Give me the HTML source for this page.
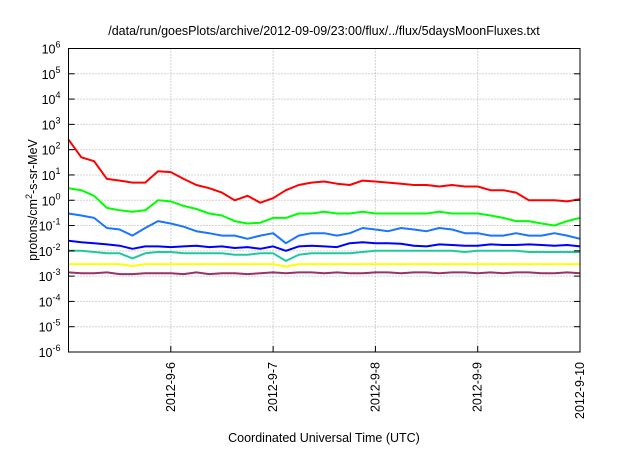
<!DOCTYPE html>
<html><head><meta charset="utf-8"><style>
body{margin:0;background:#fff}
svg text{font-family:"Liberation Sans",Arial,sans-serif;fill:#000}
</style></head><body>
<svg id="chart" width="640" height="448" xmlns="http://www.w3.org/2000/svg">
<text x="324" y="35" font-size="12.5" text-anchor="middle">/data/run/goesPlots/archive/2012-09-09/23:00/flux/../flux/5daysMoonFluxes.txt</text>
<g id="grid"></g>
<g id="series"></g>
<rect x="68.5" y="48.5" width="511.5" height="303.5" fill="none" stroke="#000" stroke-width="1"/>
<g id="axes"></g>
<text transform="translate(37,200) rotate(-90)" font-size="12.5" text-anchor="middle">protons/cm<tspan dy="-5" font-size="9">2</tspan><tspan dy="5">-s-sr-MeV</tspan></text>
<text x="324" y="442" font-size="12.5" text-anchor="middle">Coordinated Universal Time (UTC)</text>
</svg>
<script>
const xTickLabels=["2012-9-6","2012-9-7","2012-9-8","2012-9-9","2012-9-10"];
const xTickDays=[1,2,3,4,5];
const yTickExps=[-6,-5,-4,-3,-2,-1,0,1,2,3,4,5,6];
const red=[250,50,35,7,6,5,5,14,13,7,4,3,2,1,1.5,0.8,1.2,2.5,4,5,5.5,4.5,4,6,5.5,5,4.5,4,4,3.5,4,3.5,3.5,2.5,2.5,2,1,1,1,0.9,1.1];
const green=[3,2.5,1.5,0.5,0.4,0.35,0.4,1,0.9,0.6,0.45,0.3,0.25,0.15,0.12,0.13,0.2,0.2,0.3,0.3,0.35,0.3,0.3,0.35,0.3,0.3,0.3,0.3,0.3,0.35,0.3,0.3,0.3,0.25,0.2,0.15,0.15,0.12,0.1,0.15,0.2];
const lightBlue=[0.3,0.25,0.2,0.08,0.07,0.04,0.08,0.15,0.12,0.09,0.06,0.05,0.04,0.04,0.03,0.04,0.05,0.02,0.04,0.05,0.05,0.04,0.05,0.08,0.07,0.06,0.08,0.07,0.06,0.08,0.07,0.05,0.05,0.04,0.04,0.05,0.04,0.04,0.05,0.04,0.03];
const blue=[0.025,0.022,0.02,0.018,0.016,0.012,0.015,0.015,0.014,0.015,0.016,0.014,0.015,0.013,0.014,0.012,0.015,0.01,0.015,0.016,0.015,0.014,0.02,0.022,0.02,0.02,0.019,0.016,0.015,0.018,0.017,0.016,0.016,0.018,0.017,0.017,0.018,0.017,0.016,0.017,0.015];
const teal=[0.01,0.01,0.009,0.008,0.008,0.005,0.008,0.009,0.009,0.008,0.008,0.008,0.008,0.007,0.007,0.008,0.008,0.004,0.007,0.008,0.008,0.008,0.008,0.009,0.01,0.01,0.01,0.01,0.01,0.01,0.01,0.009,0.01,0.01,0.01,0.01,0.009,0.009,0.009,0.009,0.009];
const yellow=[0.003,0.003,0.003,0.003,0.003,0.0025,0.003,0.003,0.003,0.003,0.003,0.003,0.003,0.003,0.003,0.003,0.003,0.0024,0.003,0.003,0.003,0.003,0.003,0.003,0.003,0.003,0.003,0.003,0.003,0.003,0.003,0.003,0.003,0.003,0.003,0.003,0.003,0.003,0.003,0.003,0.003];
const purple=[0.0014,0.0013,0.0013,0.0014,0.0012,0.0012,0.0013,0.0013,0.0013,0.0012,0.0014,0.0012,0.0013,0.0013,0.0012,0.0013,0.0014,0.0013,0.0014,0.0014,0.0013,0.0014,0.0013,0.0013,0.0014,0.0014,0.0013,0.0014,0.0014,0.0013,0.0014,0.0014,0.0013,0.0014,0.0013,0.0014,0.0014,0.0013,0.0013,0.0014,0.0013];
const seriesList=[[purple,"#993366","purple"],[yellow,"#ffff00","yellow"],[teal,"#20c8a0","teal"],[blue,"#0000ff","blue"],[lightBlue,"#1a75ff","light-blue"],[green,"#00ff00","green"],[red,"#ff0000","red"]];
const L=68.5,R=580,T=48.5,B=352;
const xDay=d=>L+(R-L)*d/5;
const yVal=v=>B-(B-T)*(Math.log10(v)+6)/12;
const NS="http://www.w3.org/2000/svg";
function mk(tag,attrs,parent){const e=document.createElementNS(NS,tag);for(const k in attrs)e.setAttribute(k,attrs[k]);parent.appendChild(e);return e;}
const grid=document.getElementById('grid'),axes=document.getElementById('axes'),ser=document.getElementById('series');
yTickExps.forEach(p=>{const y=yVal(Math.pow(10,p));
 if(p>-6&&p<6){const g=mk('line',{x1:L,x2:R,y1:y,y2:y,stroke:'#aaa','stroke-dasharray':'1,2','stroke-width':1},grid);
 
 }
 const t1=mk('line',{x1:L,x2:L+6,y1:y,y2:y,stroke:'#000'},axes);
 
 
 const t2=mk('line',{x1:R-6,x2:R,y1:y,y2:y,stroke:'#000'},axes);
 
 
 const tx=mk('text',{x:L-8,y:y+5,'font-size':'12.5','text-anchor':'end'},axes);
 
 
 tx.innerHTML='10<tspan dy="-6" font-size="9">'+p+'</tspan>';
});
xTickDays.forEach((d,i)=>{const x=xDay(d);
 if(d<5){const g=mk('line',{x1:x,x2:x,y1:T,y2:B,stroke:'#aaa','stroke-dasharray':'1,2','stroke-width':1},grid);
 
 }
 const t=mk('line',{x1:x,x2:x,y1:B-6,y2:B,stroke:'#000'},axes);
 
 
 const tx=mk('text',{transform:'translate('+(x+4)+',362) rotate(-90)','font-size':'12.5','text-anchor':'end'},axes);
 
 
 tx.textContent=xTickLabels[i];
});
seriesList.forEach(([arr,col,nm])=>{
 const n=arr.length;const pts=arr.map((v,i)=>xDay(5*i/(n-1)).toFixed(1)+','+yVal(v).toFixed(1)).join(' ');
 const pl=mk('polyline',{points:pts,fill:'none',stroke:col,'stroke-width':2,'stroke-linejoin':'round'},ser);
 
 
});
</script>
</body></html>
